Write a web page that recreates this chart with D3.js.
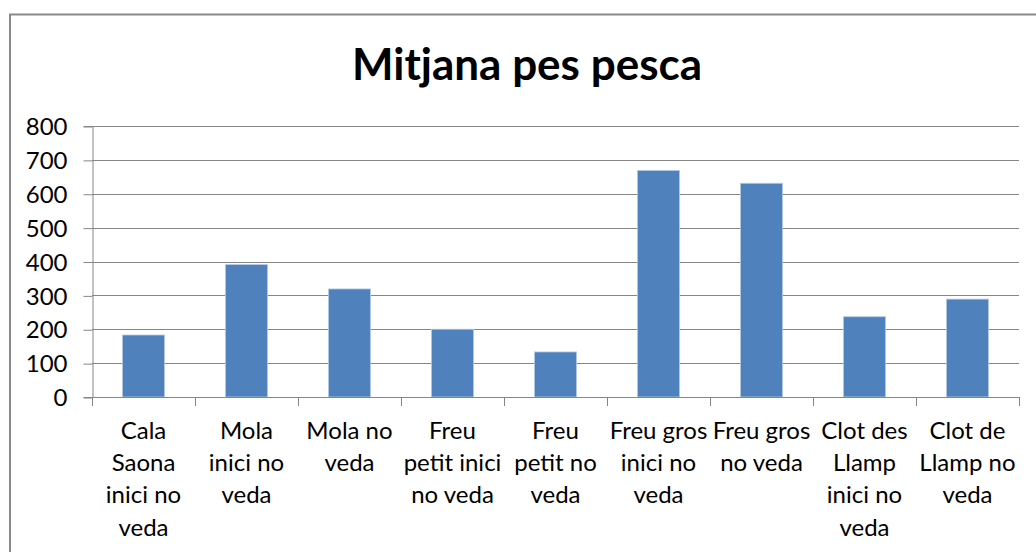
<!DOCTYPE html>
<html>
<head>
<meta charset="utf-8">
<script src="https://cdn.jsdelivr.net/npm/d3@7"></script>
<style>
  html, body { margin: 0; padding: 0; background: #fff; }
  svg { display: block; }
  text { font-family: Lato, "Open Sans", sans-serif; fill: #000; }
</style>
</head>
<body>
<svg id="chart" width="1036" height="552"></svg>
<script>
// Average catch weight per fishing ground and period
const categories = [
  "Cala Saona inici no veda",
  "Mola inici no veda",
  "Mola no veda",
  "Freu petit inici no veda",
  "Freu petit no veda",
  "Freu gros inici no veda",
  "Freu gros no veda",
  "Clot des Llamp inici no veda",
  "Clot de Llamp no veda"
];
const categoryLines = [
  ["Cala", "Saona", "inici no", "veda"],
  ["Mola", "inici no", "veda"],
  ["Mola no", "veda"],
  ["Freu", "petit inici", "no veda"],
  ["Freu", "petit no", "veda"],
  ["Freu gros", "inici no", "veda"],
  ["Freu gros", "no veda"],
  ["Clot des", "Llamp", "inici no", "veda"],
  ["Clot de", "Llamp no", "veda"]
];
const values = [183, 391, 319, 200, 133, 669, 631, 237, 289];
const yTicks = [0, 100, 200, 300, 400, 500, 600, 700, 800];
const title = "Mitjana pes pesca";

const svg = d3.select("#chart");
const W = 1036, H = 552;
const plot = { left: 92, right: 1019, top: 126, bottom: 397 };
const gray = "#868686";

// chart frame
svg.append("rect")
  .attr("x", 10).attr("y", 14.5)
  .attr("width", W + 20).attr("height", H + 20)
  .attr("fill", "#fff")
  .attr("stroke", "#898989").attr("stroke-width", 2);

// title
svg.append("text")
  .attr("x", 527).attr("y", 80)
  .attr("text-anchor", "middle")
  .style("font-weight", "bold")
  .style("font-size", "44px")
  .text(title);

const x = d3.scaleBand()
  .domain(categories)
  .range([plot.left, plot.right])
  .paddingInner(0.59)
  .paddingOuter(0.295);

const y = d3.scaleLinear()
  .domain([0, 800])
  .range([plot.bottom, plot.top]);

// horizontal gridlines
svg.append("g")
  .selectAll("line")
  .data(yTicks.filter(d => d > 0))
  .join("line")
  .attr("x1", plot.left).attr("x2", plot.right)
  .attr("y1", d => Math.round(y(d)) + 0.5).attr("y2", d => Math.round(y(d)) + 0.5)
  .attr("stroke", gray).attr("stroke-width", 1);

// bars
svg.append("g")
  .selectAll("rect")
  .data(values)
  .join("rect")
  .attr("x", (d, i) => x(categories[i]))
  .attr("width", x.bandwidth())
  .attr("y", d => y(d))
  .attr("height", d => y(0) - y(d))
  .attr("fill", "#4F81BD")
  .attr("stroke", "#b9cde5").attr("stroke-width", 0.8);

// y axis
const yAxis = d3.axisLeft(y)
  .tickValues(yTicks)
  .tickSize(9)
  .tickPadding(16);
const gy = svg.append("g")
  .attr("transform", `translate(${plot.left + 0.5},0)`)
  .call(yAxis);
gy.select(".domain").attr("stroke", gray);
gy.selectAll(".tick line").attr("stroke", gray)
  .attr("transform", "translate(0,0.5)");
gy.selectAll(".tick text")
  .style("font-size", "24px")
  .style("font-family", "Lato, sans-serif")
  .attr("fill", "#000")
  .attr("dy", "0.36em");

// x axis line with category boundary ticks
const boundaries = categories.map(c => x(c) - x.step() * x.paddingInner() / 2)
  .concat([plot.right]);
boundaries[0] = plot.left;
const gx = svg.append("g");
gx.append("line")
  .attr("x1", plot.left).attr("x2", plot.right)
  .attr("y1", plot.bottom + 0.5).attr("y2", plot.bottom + 0.5)
  .attr("stroke", gray);
gx.selectAll("line.tk")
  .data(boundaries)
  .join("line")
  .attr("class", "tk")
  .attr("x1", d => Math.round(d) + 0.5).attr("x2", d => Math.round(d) + 0.5)
  .attr("y1", plot.bottom).attr("y2", plot.bottom + 9)
  .attr("stroke", gray);

// category labels
const lbl = svg.append("g")
  .selectAll("text")
  .data(categories)
  .join("text")
  .attr("text-anchor", "middle")
  .style("font-size", "24px")
  .attr("x", d => x(d) + x.bandwidth() / 2)
  .attr("y", 439);
lbl.selectAll("tspan")
  .data((d, i) => categoryLines[i])
  .join("tspan")
  .attr("x", function () { return this.parentNode.getAttribute("x"); })
  .attr("dy", (d, i) => i === 0 ? 0 : 32.2)
  .text(d => d);
</script>
</body>
</html>
